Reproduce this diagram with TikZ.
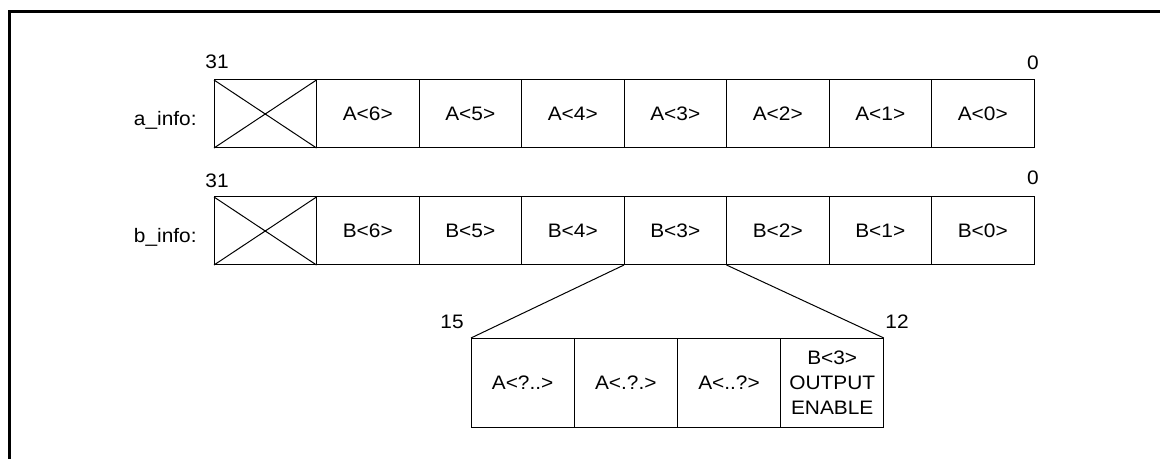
\documentclass[tikz,border=0pt]{standalone}
\usepackage{fontspec}
\setmainfont{Liberation Sans}[FakeStretch=1.07]
\usetikzlibrary{positioning}
\tikzset{
  field/.style={draw, line width=0.5pt, minimum width=51.25pt, minimum height=34pt,
    inner sep=0pt, outer sep=0pt},
  subfield/.style={draw, line width=0.5pt, minimum width=51.6pt, minimum height=44.5pt,
    inner sep=0pt, outer sep=0pt, align=center},
  bitno/.style={inner sep=0pt},
  regname/.style={inner sep=0pt, anchor=base east}
}
\begin{document}
\begin{tikzpicture}[x=0.5pt, y=-0.5pt, font=\fontsize{9.75}{12.5}\selectfont]
  \useasboundingbox (0,0) rectangle (1160,459);
  % frame
  \draw[line width=1.5pt] (9,459) -- (9,11.7) -- (1160,11.7);
  % a_info
  \node[regname] (aname) at (197,126) {a\_info:};
  \node[field] (ax) at (265.25,114) {};
  \node[field, right=0pt of ax] (a6) {A<6>};
  \node[field, right=0pt of a6] (a5) {A<5>};
  \node[field, right=0pt of a5] (a4) {A<4>};
  \node[field, right=0pt of a4] (a3) {A<3>};
  \node[field, right=0pt of a3] (a2) {A<2>};
  \node[field, right=0pt of a2] (a1) {A<1>};
  \node[field, right=0pt of a1] (a0) {A<0>};
  \draw[line width=0.5pt] (ax.north west) -- (ax.south east)
    (ax.south west) -- (ax.north east);
  \node[bitno] (a31) at (217,61.5) {31};
  \node[bitno] (abit0) at (1033,63) {0};
  % b_info
  \node[regname] (bname) at (197,243) {b\_info:};
  \node[field] (bx) at (265.25,231) {};
  \node[field, right=0pt of bx] (b6) {B<6>};
  \node[field, right=0pt of b6] (b5) {B<5>};
  \node[field, right=0pt of b5] (b4) {B<4>};
  \node[field, right=0pt of b4] (b3) {B<3>};
  \node[field, right=0pt of b3] (b2) {B<2>};
  \node[field, right=0pt of b2] (b1) {B<1>};
  \node[field, right=0pt of b1] (b0) {B<0>};
  \draw[line width=0.5pt] (bx.north west) -- (bx.south east)
    (bx.south west) -- (bx.north east);
  \node[bitno] (b31) at (217,181) {31};
  \node[bitno] (bbit0) at (1033,178) {0};
  % expansion of B<3>
  \node[subfield] (c1) at (522.6,382.5) {A<?..>};
  \node[subfield, right=0pt of c1] (c2) {A<.?.>};
  \node[subfield, right=0pt of c2] (c3) {A<..?>};
  \node[subfield, right=0pt of c3] (c4) {B<3>\\OUTPUT\\ENABLE};
  \node[bitno] (c15) at (452,322) {15};
  \node[bitno] (c12) at (897,322) {12};
  \draw[line width=0.5pt] (b3.south west) -- (c1.north west);
  \draw[line width=0.5pt] (b3.south east) -- (c4.north east);
\end{tikzpicture}
\end{document}
